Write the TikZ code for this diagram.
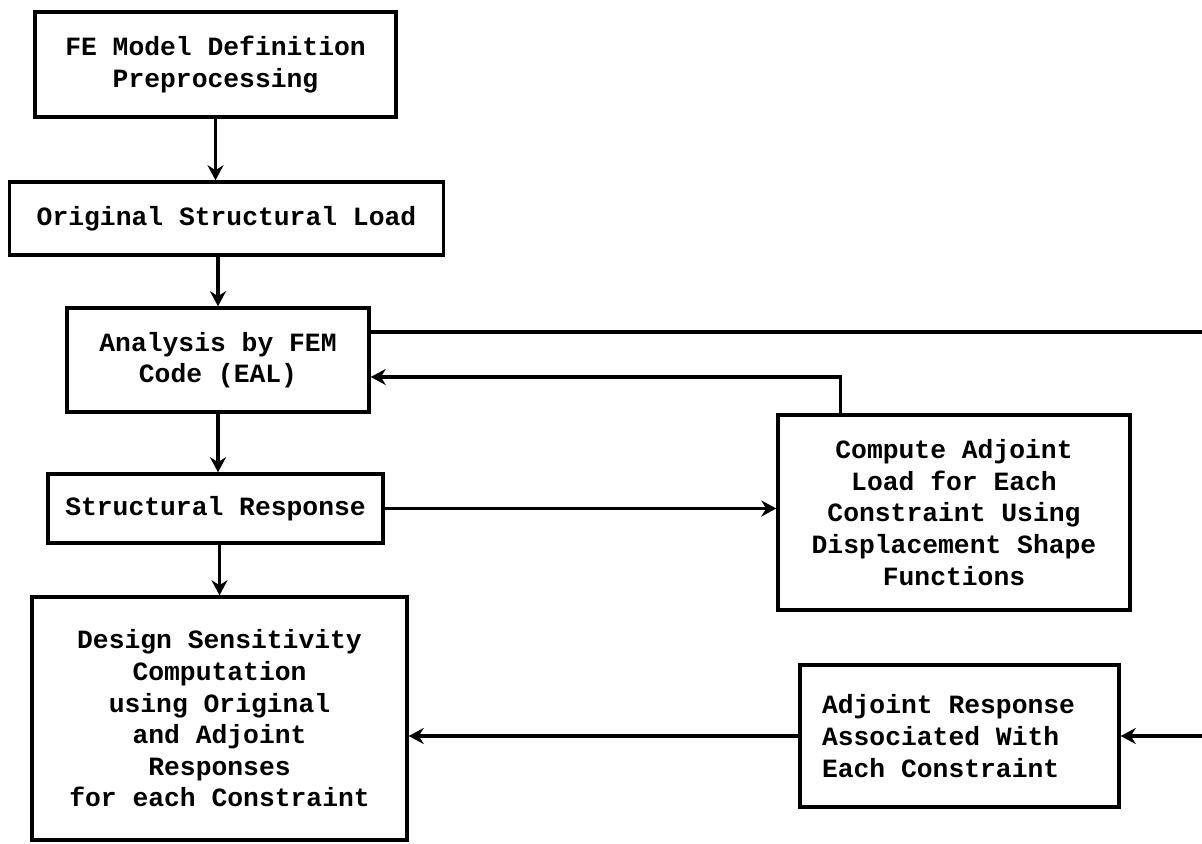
\documentclass[tikz,border=0pt]{standalone}
\usepackage{fontspec}
\setmonofont{Liberation Mono}
\usetikzlibrary{arrows.meta,positioning}

\begin{document}
\begin{tikzpicture}[x=0.02cm,y=-0.02cm,line width=2pt,
    >={Stealth[length=0.3cm,width=0.32cm]},
    box/.style={draw,align=center,inner sep=0pt,
      font=\ttfamily\bfseries\fontsize{15}{18}\selectfont}]
    \useasboundingbox (0,0) rectangle (1202,844);
    % left column
    \node[box,minimum width=7.22cm,minimum height=2.10cm] (fe) at (215.5,64.5)
      {FE Model Definition\\Preprocessing};
    \node[box,minimum width=8.68cm,minimum height=1.46cm] (load) at (226.5,218.5)
      {Original Structural Load};
    \node[box,minimum width=6.04cm,minimum height=2.08cm] (fem) at (218,360)
      {Analysis by FEM\\Code (EAL)};
    \node[box,minimum width=6.70cm,minimum height=1.38cm] (resp) at (215.5,508.5)
      {Structural Response};
    \node[box,minimum width=7.50cm,minimum height=4.86cm] (sens) at (219.5,718.5)
      {Design Sensitivity\\Computation\\using Original\\and Adjoint\\Responses\\for each Constraint};
    % right column
    \node[box,minimum width=7.04cm,minimum height=3.90cm] (adjload) at (954,512.5)
      {Compute Adjoint\\Load for Each\\Constraint Using\\Displacement Shape\\Functions};
    \node[box,align=left,text width=5.5cm,inner xsep=0.44cm,
      execute at begin node={\spaceskip=0pt\relax},
      minimum width=6.38cm,minimum height=2.84cm] (adjresp) at (959.5,736)
      {Adjoint Response\\Associated With\\Each Constraint};
    \coordinate (rim) at (1206,0);
    % connectors
    \draw[->] (fe.south) -- (fe.south |- load.north);
    \draw[->] (fem.north |- load.south) -- (fem.north);
    \draw[->] (fem.south) -- (fem.south |- resp.north);
    \draw[->] (sens.north |- resp.south) -- (sens.north);
    \draw[->] (resp.east) -- (resp.east -| adjload.west);
    \draw[->] ([xshift=1.28cm]adjload.north west) |- ([yshift=-0.34cm]fem.east);
    \draw[->] ([yshift=0.56cm]fem.east) -| (rim |- adjresp.east) -- (adjresp.east);
    \draw[->] (adjresp.west) -- (adjresp.west -| sens.east);
\end{tikzpicture}
\end{document}
